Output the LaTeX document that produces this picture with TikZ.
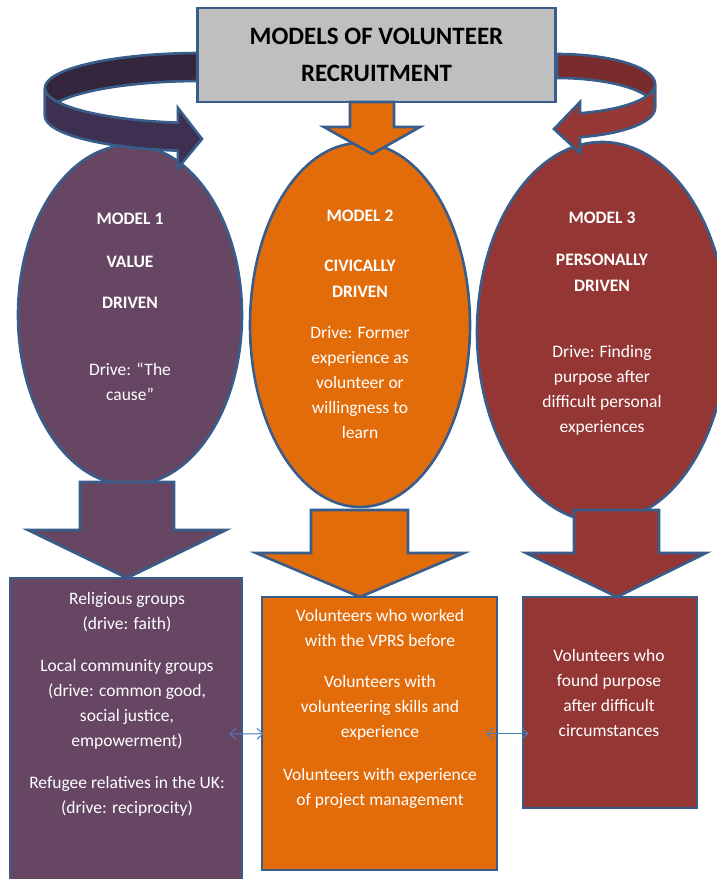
\documentclass[tikz,border=0pt]{standalone}
\usepackage{fontspec}
\setmainfont{Carlito}
\usetikzlibrary{shapes.geometric,arrows.meta}
\definecolor{outline}{HTML}{385D8A}
\definecolor{linkblue}{HTML}{4A7EBB}
\definecolor{purplefill}{RGB}{103,70,100}
\definecolor{orangefill}{HTML}{E36C0A}
\definecolor{redfill}{HTML}{943634}
\definecolor{greyfill}{HTML}{BFBFBF}
\definecolor{purpleback}{RGB}{51,38,61}
\definecolor{purplefront}{RGB}{62,48,80}
\definecolor{redback}{RGB}{122,44,44}
\definecolor{redfront}{RGB}{149,55,53}

\begin{document}
\begin{tikzpicture}[x=1pt,y=-1pt,
    shapeline/.style={draw=outline,line width=2.6pt,line join=miter},
    model/.style={ellipse,shapeline,inner sep=0pt},
    groupbox/.style={rectangle,shapeline,inner sep=0pt},
    bodytext/.style={text=white,align=center,inner sep=0pt,font=\fontsize{17.5}{25}\selectfont},
    headtext/.style={text=white,align=center,inner sep=0pt,font=\bfseries\fontsize{17.5}{26}\selectfont},
    link/.style={draw=linkblue,line width=1pt,{Straight Barb[length=6pt,width=11pt]}-{Straight Barb[length=6pt,width=11pt]}}]
    \useasboundingbox (0,0) rectangle (717,879);

    \node[model,fill=purplefill,minimum width=224pt,minimum height=340pt] (model1) at (130,315) {};
    \node[model,fill=orangefill,minimum width=220pt,minimum height=364pt] (model2) at (360,325) {};
    \node[model,fill=redfill,minimum width=250pt,minimum height=380pt] (model3) at (602,332) {};

    \draw[shapeline,fill=purpleback] plot[domain=270:180,samples=40] ({200+155*cos(\x)},{88+35*sin(\x)})
        -- plot[domain=180:270,samples=40] ({200+155*cos(\x)},{116+35*sin(\x)}) -- cycle;
    \draw[shapeline,fill=purplefront] plot[domain=180:98.2,samples=40] ({200+155*cos(\x)},{88+35*sin(\x)})
        -- (178,108) -- (202,139) -- (178,168)
        -- plot[domain=98.2:180,samples=40] ({200+155*cos(\x)},{116+35*sin(\x)}) -- cycle;
    \draw[shapeline,fill=redback] plot[domain=270:360,samples=40] ({557+98*cos(\x)},{84+30*sin(\x)})
        -- plot[domain=360:270,samples=40] ({557+98*cos(\x)},{108+30*sin(\x)}) -- cycle;
    \draw[shapeline,fill=redfront] plot[domain=0:76.4,samples=40] ({557+98*cos(\x)},{84+30*sin(\x)})
        -- (580,102) -- (554,129) -- (580,153)
        -- plot[domain=76.4:0,samples=40] ({557+98*cos(\x)},{108+30*sin(\x)}) -- cycle;

    \node[groupbox,fill=greyfill,minimum width=358pt,minimum height=94pt,align=center,
        font=\bfseries\fontsize{25}{37}\selectfont] (title) at (376.5,55) {MODELS OF VOLUNTEER\\RECRUITMENT};
    \draw[shapeline,fill=orangefill] (350,102) -- (394,102) -- (394,127) -- (420,127) -- (372,154) -- (324,127) -- (350,127) -- cycle;

    \node[groupbox,fill=purplefill,minimum width=232pt,minimum height=312pt] (box1) at (126,734) {};
    \node[groupbox,fill=orangefill,minimum width=235pt,minimum height=273pt] (box2) at (379.5,733.5) {};
    \node[groupbox,fill=redfill,minimum width=174pt,minimum height=211pt] (box3) at (610,702.5) {};

    \draw[shapeline,fill=purplefill] (80,482) -- (174,482) -- (174,530) -- (226,530) -- (127,578) -- (28,530) -- (80,530) -- cycle;
    \draw[shapeline,fill=orangefill] (311,510) -- (408,510) -- (408,553) -- (464,553) -- (360,597) -- (256,553) -- (311,553) -- cycle;
    \draw[shapeline,fill=redfill] (574,510) -- (659,510) -- (659,553) -- (706,553) -- (617,597) -- (526,553) -- (574,553) -- cycle;

    \node[headtext] (m1name) at (130,219) {MODEL 1};
    \node[headtext] (m1kind) at (130,262) {VALUE};
    \node[headtext] (m1driven) at (130,303) {DRIVEN};
    \node[bodytext] (m1drive) at (130,382) {Drive: “The\\cause”};

    \node[headtext] (m2name) at (360,216) {MODEL 2};
    \node[headtext] (m2kind) at (360,279) {CIVICALLY\\DRIVEN};
    \node[bodytext] (m2drive) at (360,383) {Drive: Former\\experience as\\volunteer or\\willingness to\\learn};

    \node[headtext] (m3name) at (602,218) {MODEL 3};
    \node[headtext] (m3kind) at (602,272.5) {PERSONALLY\\DRIVEN};
    \node[bodytext] (m3drive) at (602,390) {Drive: Finding\\purpose after\\difficult personal\\experiences};

    \node[bodytext] (religious) at (127,612) {Religious groups\\(drive: faith)};
    \node[bodytext] (community) at (127,704) {Local community groups\\(drive: common good,\\social justice,\\empowerment)};
    \node[bodytext] (relatives) at (127,796) {Refugee relatives in the UK:\\(drive: reciprocity)};

    \node[bodytext] (vprs) at (380,627.5) {Volunteers who worked\\with the VPRS before};
    \node[bodytext] (skills) at (380,708) {Volunteers with\\volunteering skills and\\experience};
    \node[bodytext] (project) at (380,788) {Volunteers with experience\\of project management};

    \node[bodytext] (purpose) at (609,692.5) {Volunteers who\\found purpose\\after difficult\\circumstances};

    \draw[link,shorten <=-14pt,shorten >=-3pt] (box1) -- (box2);
    \draw[link,shorten <=-12pt,shorten >=-7pt] (box2.east) -- (box2.east -| box3.west);
\end{tikzpicture}
\end{document}
